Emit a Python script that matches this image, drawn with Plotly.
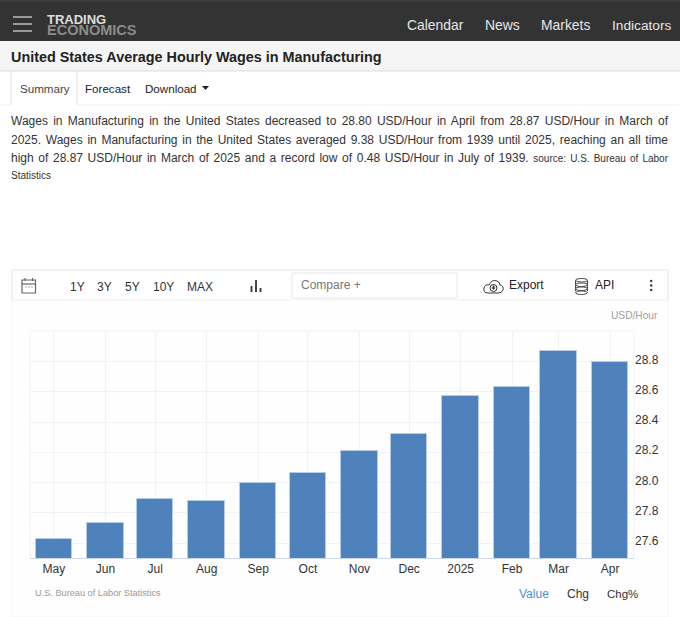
import plotly.graph_objects as go

W, H = 680, 617

dates = ["2024-05-01", "2024-06-01", "2024-07-01", "2024-08-01", "2024-09-01", "2024-10-01",
         "2024-11-01", "2024-12-01", "2025-01-01", "2025-02-01", "2025-03-01", "2025-04-01"]
wages = [27.625, 27.73, 27.89, 27.88, 28.00, 28.06, 28.21, 28.32, 28.57, 28.63, 28.87, 28.80]
month_labels = ["May", "Jun", "Jul", "Aug", "Sep", "Oct", "Nov", "Dec", "2025", "Feb", "Mar", "Apr"]
y_ticks = [27.6, 27.8, 28.0, 28.2, 28.4, 28.6, 28.8]

summary_lines = [
    "Wages in Manufacturing in the United States decreased to 28.80 USD/Hour in April from 28.87 USD/Hour in March of",
    "2025. Wages in Manufacturing in the United States averaged 9.38 USD/Hour from 1939 until 2025, reaching an all time",
    "high of 28.87 USD/Hour in March of 2025 and a record low of 0.48 USD/Hour in July of 1939. <span style='font-size:10px'>source: U.S. Bureau of Labor</span>",
]

FONT = "Liberation Sans"
DAY_MS = 86400000

# stretches the long paragraph lines so they end at the right margin, like the justified original
JUSTIFY = """
document.body.style.margin = '0';
document.querySelectorAll('.annotation-text').forEach(function (t) {
    var s = t.textContent;
    if (s.length < 100) return;
    t.style.wordSpacing = ((657 - t.getComputedTextLength()) / (s.split(' ').length - 1)) + 'px';
});
"""


def px(x):
    return x / W


def py(y):
    return 1 - y / H


annotations = []
shapes = []


def text(x, y, s, size=12, color="#333333", anchor="left", bold=False):
    if bold:
        s = "<b>" + s + "</b>"
    annotations.append(dict(x=px(x), y=py(y), xref="paper", yref="paper", text=s, showarrow=False,
                            xanchor=anchor, yanchor="middle", align=anchor, borderpad=0, borderwidth=0,
                            font=dict(family=FONT, size=size, color=color)))


def rect(x0, y0, x1, y1, fill="rgba(0,0,0,0)", line=None, width=1, layer="below"):
    shapes.append(dict(type="rect", xref="paper", yref="paper", layer=layer,
                       x0=px(x0), x1=px(x1), y0=py(y0), y1=py(y1), fillcolor=fill,
                       line=dict(color=line or "rgba(0,0,0,0)", width=width if line else 0)))


def oval(x0, y0, x1, y1, fill="rgba(0,0,0,0)", line=None, width=1):
    shapes.append(dict(type="circle", xref="paper", yref="paper", layer="above",
                       x0=px(x0), x1=px(x1), y0=py(y0), y1=py(y1), fillcolor=fill,
                       line=dict(color=line or "rgba(0,0,0,0)", width=width if line else 0)))


def seg(x0, y0, x1, y1, color, width=1):
    shapes.append(dict(type="line", xref="paper", yref="paper", layer="above",
                       x0=px(x0), x1=px(x1), y0=py(y0), y1=py(y1), line=dict(color=color, width=width)))


def path(points, color, width=1, fill="rgba(0,0,0,0)"):
    d = " ".join((c + str(round(px(x), 5)) + "," + str(round(py(y), 5))) for c, x, y in points) + " Z"
    shapes.append(dict(type="path", xref="paper", yref="paper", layer="above", path=d,
                       fillcolor=fill, line=dict(color=color, width=width)))


# header
rect(0, 0, W, 41, fill="#333333")
rect(0, 0, W, 2, fill="#3c3c44")
for yy in (17, 24, 31):
    seg(13, yy, 32, yy, "#9a9a9a", 2)
annotations.append(dict(x=px(45), y=py(25), xref="paper", yref="paper", showarrow=False, xanchor="left",
                        yanchor="middle", align="left", font=dict(family=FONT, size=8.5),
                        text="<span style='font-size:13px;color:#dddddd'><b>TRADING</b></span><br>"
                             "<span style='font-size:14.5px;color:#8c8c8c'><b>ECONOMICS</b></span>"))
text(407, 25, "Calendar", 13.9, "#e6e6e6")
text(485, 25, "News", 13.9, "#e6e6e6")
text(541, 25, "Markets", 13.9, "#e6e6e6")
text(612, 25, "Indicators", 13.7, "#e6e6e6")

# title band and tabs
rect(0, 41, W, 71, fill="#f5f5f5")
seg(0, 71, W, 71, "#dddddd")
text(11, 57, "United States Average Hourly Wages in Manufacturing", 14.38, "#222222", bold=True)
rect(11, 71, 77, 105, fill="#ffffff")
seg(11, 71, 11, 105, "#e3e3e3")
seg(77, 71, 77, 105, "#e3e3e3")
seg(0, 105, 11, 105, "#eeeeee")
seg(77, 105, W, 105, "#eeeeee")
text(20, 88, "Summary", 11.6, "#444444")
text(85, 88, "Forecast", 11.6, "#222222")
text(145, 88, "Download", 11.6, "#222222")
path([("M", 202, 86), ("L", 209, 86), ("L", 205.5, 90)], "#222222", 0, "#222222")

# summary paragraph
text(11, 121, summary_lines[0], 12, "#333333")
text(11, 140, summary_lines[1], 12, "#333333")
text(11, 158, summary_lines[2], 12, "#333333")
text(11, 175, "Statistics", 10, "#333333")

# toolbar
rect(12, 270, 668, 300, fill="#ffffff", line="#e4e4e4")
rect(12, 300, 668, 617, fill="#fefefe", line="#f6f6f6")
# calendar icon
rect(22, 280, 35.5, 293, line="#666666", width=1.2, layer="above")
seg(22, 284, 35.5, 284, "#666666", 1.2)
seg(25, 278, 25, 281, "#666666", 1.2)
seg(32.5, 278, 32.5, 281, "#666666", 1.2)
for xx in (25.5, 28.5, 31.5):
    seg(xx, 287, xx + 1, 287, "#555555", 1.2)
for label, xx in zip(["1Y", "3Y", "5Y", "10Y", "MAX"], [70, 97, 125, 153, 187]):
    text(xx, 287, label, 12, "#333333")
seg(251.5, 286, 251.5, 292, "#333333", 1.8)
seg(256, 280, 256, 292, "#333333", 1.8)
seg(260.5, 288, 260.5, 292, "#333333", 1.8)
rect(292, 273, 457, 298, fill="#ffffff", line="#e6e6e6")
text(301, 285, "Compare +", 12, "#777777")
# cloud icon
path([("M", 488, 293), ("Q", 483, 293), ("", 484, 288), ("Q", 485, 284), ("", 489, 285), ("Q", 492, 279), ("", 497, 281),
      ("Q", 500, 282), ("", 500, 285), ("Q", 504, 286), ("", 503, 290), ("Q", 502, 293), ("", 498, 293)], "#333333", 1)
oval(490, 284.5, 497, 291.5, fill="#ffffff", line="#333333")
seg(493.5, 285.5, 493.5, 288.5, "#333333", 1.5)
path([("M", 491.5, 287.5), ("L", 495.5, 287.5), ("L", 493.5, 290)], "#333333", 0, "#333333")
text(509, 285, "Export", 12, "#222222")
# database icon
seg(575.5, 281, 575.5, 291, "#444444")
seg(587.5, 281, 587.5, 291, "#444444")
for yy in (278.5, 283, 287, 291):
    oval(575.5, yy, 587.5, yy + 3.5, fill="#ffffff", line="#444444")
text(595, 285, "API", 12, "#222222")
for yy in (281, 285.5, 290):
    oval(650, yy - 1.2, 652.4, yy + 1.2, fill="#333333")

text(658, 315, "USD/Hour", 10.2, "#a0a0a0", anchor="right")
text(35, 593, "U.S. Bureau of Labor Statistics", 9.2, "#999999")
text(519, 594, "Value", 12, "#4a90d9")
text(567, 594, "Chg", 12, "#333333")
text(607, 594, "Chg%", 11.5, "#333333")

# chart frame lines
seg(30, 331, 634, 331, "#f2f2f2")
seg(30, 331, 30, 558, "#f2f2f2")
seg(634, 331, 634, 558, "#f2f2f2")

fig = go.Figure()
fig.add_trace(go.Bar(x=dates, y=wages, width=21.9 * DAY_MS, marker_color="#4f81bd",
                     marker_line_color="#b5cde8", marker_line_width=1))

fig.update_layout(
    width=W, height=H, margin=dict(l=0, r=0, t=0, b=0), paper_bgcolor="#ffffff", plot_bgcolor="rgba(0,0,0,0)",
    showlegend=False, bargap=0, annotations=annotations, shapes=shapes, font=dict(family=FONT),
    xaxis=dict(type="date", domain=[px(30), px(634)], range=["2024-04-16 14:00", "2025-04-15 10:00"],
               tickmode="array", tickvals=dates, ticktext=month_labels, showgrid=True, gridcolor="#f2f2f2",
               showline=True, linecolor="#ccd6eb", ticks="", tickfont=dict(size=12, color="#333333"), fixedrange=True),
    yaxis=dict(domain=[py(558), py(331)], range=[27.501, 29.0017], side="right", tickmode="array", tickvals=y_ticks,
               ticktext=[f"{v:.1f}" for v in y_ticks], showgrid=True, gridcolor="#f2f2f2", zeroline=False,
               ticks="", ticklabelshift=-2, tickfont=dict(size=12, color="#333333"), fixedrange=True),
)

fig.write_html("out.html", config=dict(displayModeBar=False), post_script=JUSTIFY)
